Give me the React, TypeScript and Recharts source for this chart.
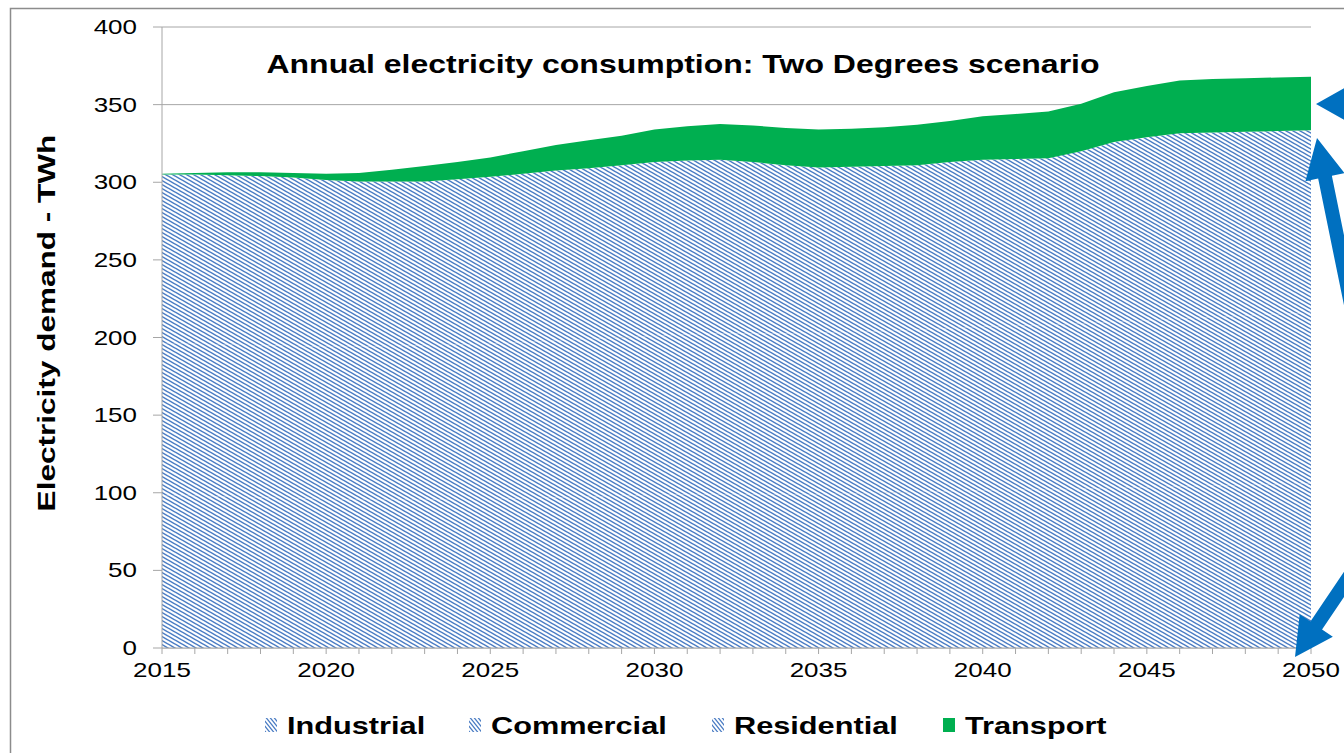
import { Area, AreaChart, CartesianGrid, Legend, XAxis, YAxis } from "recharts";

const years = [
  2015, 2016, 2017, 2018, 2019, 2020, 2021, 2022, 2023, 2024, 2025, 2026,
  2027, 2028, 2029, 2030, 2031, 2032, 2033, 2034, 2035, 2036, 2037, 2038,
  2039, 2040, 2041, 2042, 2043, 2044, 2045, 2046, 2047, 2048, 2049, 2050,
];

// TWh per sector
const industrial = [
  98, 98, 97.5, 97, 96.5, 96, 95.5, 95.5, 95.5, 96, 96, 96.5,
  97, 97.5, 98, 98.5, 99, 99, 99, 99, 99, 99.5, 100, 100.5,
  101, 101.5, 102, 102, 102.5, 103, 103.5, 104, 104.5, 105, 105.5, 106,
];
const commercial = [
  98, 98, 98, 98, 98, 98, 98.5, 99, 99.5, 99.5, 100, 100.5,
  101, 101.5, 102, 102.5, 103, 103.5, 103.5, 103.5, 104, 104, 104, 104.5,
  105, 105.5, 105.5, 106, 106.5, 107, 107.5, 108, 108.5, 109, 109.5, 110,
];
const residential = [
  109, 109, 109, 109, 108.5, 107.5, 106.5, 106, 105.5, 106.5, 107.5, 108.5,
  109.5, 110, 111, 112, 112, 112, 110.5, 108.5, 106.5, 106.5, 106.5, 106,
  107, 107.5, 107.5, 107.5, 111, 116, 118, 119.5, 119, 118.5, 118, 117.5,
];
const transport = [
  0.5, 1, 2, 2.5, 3, 4, 5.5, 7.5, 10, 11, 12.5, 14.5,
  16.5, 18, 19, 21, 22, 23, 23.5, 24, 24.5, 24.5, 25, 26,
  26.5, 28, 29, 30, 30.5, 32, 33, 34, 34.5, 34.5, 34.5, 34.5,
];

const yTicks = [0, 50, 100, 150, 200, 250, 300, 350, 400];

const title = "Annual electricity consumption: Two Degrees scenario";
const yLabel = "Electricity demand - TWh";

const series = [
  { key: "industrial", name: "Industrial", fill: "url(#hatch)", icon: "url(#legendHatch)" },
  { key: "commercial", name: "Commercial", fill: "url(#hatch)", icon: "url(#legendHatch)" },
  { key: "residential", name: "Residential", fill: "url(#hatch)", icon: "url(#legendHatch)" },
  { key: "transport", name: "Transport", fill: "#00AF50", icon: "#00AF50" },
];

const data = years.map((year, i) => ({
  year,
  industrial: industrial[i],
  commercial: commercial[i],
  residential: residential[i],
  transport: transport[i],
}));

const FONT = "'Liberation Sans', Arial, sans-serif";
const STRETCH = 1.3;
const HATCH_BLUE = "#4A7CC4";
const GRID = "#A6A6A6";
const ARROW = "#0070C0";

const legendIconX = [265, 469, 712, 943];

function XTick({ x, y, payload }: any) {
  if (payload.value % 5 !== 0) return <g />;
  return (
    <text
      transform={`translate(${x},${y + 21}) scale(${STRETCH},1)`}
      textAnchor="middle"
      fontFamily={FONT}
      fontSize={20}
      fill="#000"
    >
      {payload.value}
    </text>
  );
}

function YTick({ x, y, payload }: any) {
  return (
    <text
      transform={`translate(${x},${y + 7}) scale(${STRETCH},1)`}
      textAnchor="end"
      fontFamily={FONT}
      fontSize={20}
      fill="#000"
    >
      {payload.value}
    </text>
  );
}

function ChartLegend() {
  return (
    <svg width={1344} height={50} style={{ display: "block" }}>
      <defs>
        <pattern id="legendHatch" patternUnits="userSpaceOnUse" width="4" height="5">
          <rect width="4" height="5" fill="#fff" />
          <path d="M-1,-1.25 L5,6.25 M-1,3.75 L1,6.25 M3,-1.25 L5,1.25" stroke={HATCH_BLUE} strokeWidth="1.3" />
        </pattern>
      </defs>
      {series.map((s, i) => (
        <g key={s.key}>
          <rect x={legendIconX[i]} y={18} width={12} height={14} fill={s.icon} />
          <text
            transform={`translate(${legendIconX[i] + 22},34) scale(1.28,1)`}
            fontFamily={FONT}
            fontWeight="bold"
            fontSize={24}
            fill="#000"
          >
            {s.name}
          </text>
        </g>
      ))}
    </svg>
  );
}

function arrow(tip: [number, number], dir: [number, number], headLen: number, headHalf: number, shaftHalf: number, len: number) {
  const [tx, ty] = tip;
  const m = Math.hypot(dir[0], dir[1]);
  const dx = dir[0] / m;
  const dy = dir[1] / m;
  const nx = dy;
  const ny = -dx;
  const bx = tx + dx * headLen;
  const by = ty + dy * headLen;
  const ex = tx + dx * len;
  const ey = ty + dy * len;
  const pts = [
    [tx, ty],
    [bx + nx * headHalf, by + ny * headHalf],
    [bx + nx * shaftHalf, by + ny * shaftHalf],
    [ex + nx * shaftHalf, ey + ny * shaftHalf],
    [ex - nx * shaftHalf, ey - ny * shaftHalf],
    [bx - nx * shaftHalf, by - ny * shaftHalf],
    [bx - nx * headHalf, by - ny * headHalf],
  ];
  return pts.map((p) => p.join(",")).join(" ");
}

export default function App() {
  return (
    <div style={{ position: "absolute", left: 0, top: 0, width: 1344, height: 753, overflow: "hidden", background: "#fff" }}>
      <AreaChart
        width={1344}
        height={753}
        data={data}
        margin={{ top: 27, right: 33, bottom: 0, left: 0 }}
      >
        <defs>
          <pattern id="hatch" patternUnits="userSpaceOnUse" width="7" height="4">
            <rect width="7" height="4" fill="#fff" />
            <path
              d="M-1,-4.571 L8,0.571 M-1,-0.571 L8,4.571 M-1,3.429 L8,8.571"
              stroke={HATCH_BLUE}
              strokeWidth="1.5"
            />
          </pattern>
        </defs>
        <CartesianGrid vertical={false} stroke={GRID} />
        <XAxis
          dataKey="year"
          type="number"
          domain={[2015, 2050]}
          ticks={years}
          interval={0}
          height={105}
          tick={<XTick />}
          tickSize={6}
          axisLine={{ stroke: GRID }}
          tickLine={{ stroke: GRID }}
        />
        <YAxis
          domain={[0, 400]}
          ticks={yTicks}
          width={162}
          tick={<YTick />}
          tickSize={9}
          tickMargin={16}
          axisLine={{ stroke: GRID }}
          tickLine={{ stroke: GRID }}
        />
        {series.map((s) => (
          <Area
            key={s.key}
            type="linear"
            dataKey={s.key}
            name={s.name}
            stackId="sectors"
            fill={s.fill}
            fillOpacity={1}
            stroke="none"
            isAnimationActive={false}
          />
        ))}
        <Legend
          layout="horizontal"
          verticalAlign="middle"
          align="center"
          wrapperStyle={{ left: 0, top: 700, width: 1344, height: 50 }}
          content={() => <ChartLegend />}
        />
      </AreaChart>
      <svg
        width={1344}
        height={753}
        style={{ position: "absolute", left: 0, top: 0, pointerEvents: "none" }}
      >
        <path d="M10.5,753 L10.5,8.5 L1344,8.5" fill="none" stroke="#8C8C8C" strokeWidth={1.5} />
        <text
          transform={`translate(683,73) scale(1.28,1)`}
          textAnchor="middle"
          fontFamily={FONT}
          fontWeight="bold"
          fontSize={25}
          fill="#000"
        >
          {title}
        </text>
        <text
          transform="translate(47,323) rotate(-90) scale(1.315,1)"
          textAnchor="middle"
          dominantBaseline="central"
          fontFamily={FONT}
          fontWeight="bold"
          fontSize={24}
          fill="#000"
        >
          {yLabel}
        </text>
        <polygon points={arrow([1316, 104], [1, 0], 30, 17, 7, 100)} fill={ARROW} />
        <polygon points={arrow([1317, 138], [0.2, 0.98], 40, 20, 7, 300)} fill={ARROW} />
        <polygon points={arrow([1295, 657], [0.56, -0.83], 38, 20, 7, 200)} fill={ARROW} />
      </svg>
    </div>
  );
}
